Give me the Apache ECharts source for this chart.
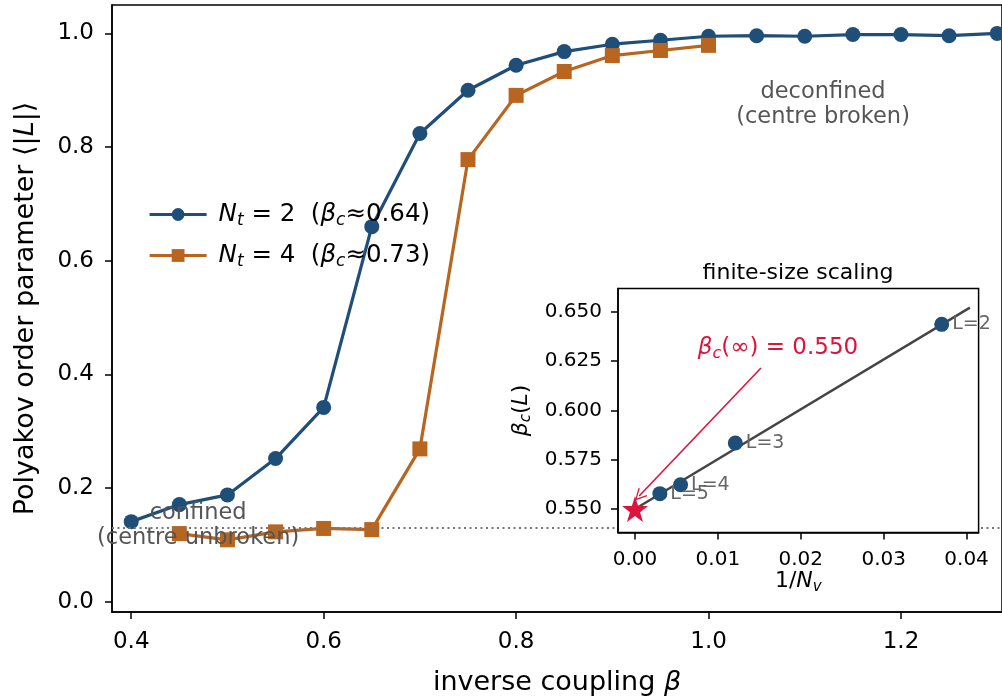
<!DOCTYPE html>
<html><head><meta charset="utf-8">
<script src="https://cdn.jsdelivr.net/npm/echarts@6.0.0/dist/echarts.min.js"></script>
<style>html,body{margin:0;padding:0;background:#fff}#c{width:1002px;height:697px}</style>
</head><body><div id="c"></div>
<script>
// ---------- data ----------
const betaNt2 = [0.40,0.45,0.50,0.55,0.60,0.65,0.70,0.75,0.80,0.85,0.90,0.95,1.00,1.05,1.10,1.15,1.20,1.25,1.30];
const polyNt2 = [0.141,0.171,0.188,0.252,0.342,0.660,0.824,0.900,0.944,0.968,0.981,0.988,0.995,0.996,0.995,0.998,0.998,0.996,1.000];
const betaNt4 = [0.45,0.50,0.55,0.60,0.65,0.70,0.75,0.80,0.85,0.90,0.95,1.00];
const polyNt4 = [0.120,0.109,0.123,0.129,0.127,0.269,0.778,0.891,0.933,0.961,0.970,0.979];
const confinedLevel = 0.132;
const mainXTicks = [0.4,0.6,0.8,1.0,1.2];
const mainYTicks = [0.0,0.2,0.4,0.6,0.8,1.0];

const fssLabels = ['L=2','L=3','L=4','L=5'];
const fssInvNv = [0.0370,0.0121,0.0055,0.0030];
const fssBetaC = [0.6437,0.5835,0.5623,0.5578];
const fitX = [0.0, 0.0404];
const fitY = [0.550, 0.6522];
const betaInf = 0.550;
const arrowFrom = [0.0152, 0.6216];
const arrowTo = [0.0005, 0.5566];
const insetXTicks = [0.00,0.01,0.02,0.03,0.04];
const insetYTicks = [0.550,0.575,0.600,0.625,0.650];

// ---------- style ----------
const FONT = 'DejaVu Sans';
const BLUE = '#1f4e79';
const ORANGE = '#b8651f';
const CRIMSON = '#dc143c';

const chart = echarts.init(document.getElementById('c'), null, {renderer:'canvas'});

const legendNames = {
  'Nt2': '{i|N}{s|t}{n| = 2  (}{i|β}{s|c}{n|≈0.64)}',
  'Nt4': '{i|N}{s|t}{n| = 4  (}{i|β}{s|c}{n|≈0.73)}'
};
function richSet(size, color){
  const sub = Math.round(size*0.7);
  return {
    n:{fontFamily:FONT,fontSize:size,color:color,lineHeight:Math.round(size*1.2)},
    i:{fontFamily:FONT,fontSize:size,fontStyle:'italic',color:color,lineHeight:Math.round(size*1.2)},
    s:{fontFamily:FONT,fontSize:sub,fontStyle:'italic',color:color,lineHeight:sub,verticalAlign:'bottom'}
  };
}
const STAR = 'path://M50,0 L61.8,35.1 L98.9,35.1 L68.9,56.9 L80.3,91.9 L50,70.2 L19.7,91.9 L31.1,56.9 L1.1,35.1 L38.2,35.1 Z';
const ARROW = 'path://M0,10 L5,0 L10,10 L9,10.6 L5,2.2 L1,10.6 Z';

const option = {
  animation:false,
  backgroundColor:'#fff',
  textStyle:{fontFamily:FONT},
  grid:[
    {left:112, top:5, width:890, height:607, show:true, borderColor:'#000', borderWidth:1.5, backgroundColor:'transparent', containLabel:false, outerBoundsMode:'none'},
    {left:618, top:288.5, width:360.6, height:244, show:true, borderColor:'#000', borderWidth:1.5, backgroundColor:'#fff', z:20, containLabel:false, outerBoundsMode:'none'}
  ],
  legend:{
    orient:'vertical', left:148, top:202, padding:0, itemWidth:57, itemHeight:16, itemGap:14,
    data:['Nt2','Nt4'],
    formatter:n=>legendNames[n],
    lineStyle:{width:3.2},
    textStyle:{rich:richSet(24.5,'#000'), padding:[0,0,0,7]}
  },
  xAxis:[
    {gridIndex:0, type:'value', min:0.38, max:1.305,
     axisLine:{onZero:false, lineStyle:{color:'#000',width:1.5}},
     axisTick:{length:7, lineStyle:{color:'#000',width:1.5}, customValues:mainXTicks},
     axisLabel:{fontSize:23, color:'#000', margin:19, customValues:mainXTicks, formatter:v=>v.toFixed(1)},
     splitLine:{show:false},
     name:'{n|inverse coupling }{i|β}', nameLocation:'middle', nameGap:55,
     nameTextStyle:{rich:richSet(27,'#000')}
    },
    {gridIndex:1, type:'value', min:-0.00205, max:0.04145, z:21,
     axisLine:{onZero:false, lineStyle:{color:'#000',width:1.5}},
     axisTick:{length:7, lineStyle:{color:'#000',width:1.5}, customValues:insetXTicks},
     axisLabel:{fontSize:20, color:'#000', margin:17, customValues:insetXTicks, formatter:v=>v.toFixed(2)},
     splitLine:{show:false},
     name:'{n|1/}{i|N}{s|v}', nameLocation:'middle', nameGap:33,
     nameTextStyle:{rich:richSet(22,'#000')}
    }
  ],
  yAxis:[
    {gridIndex:0, type:'value', min:-0.018, max:1.05,
     axisLine:{onZero:false, lineStyle:{color:'#000',width:1.5}},
     axisTick:{length:7, lineStyle:{color:'#000',width:1.5}, customValues:mainYTicks},
     axisLabel:{fontSize:23, color:'#000', margin:18, customValues:mainYTicks, formatter:v=>v.toFixed(1)},
     splitLine:{show:false},
     name:'{n|Polyakov order parameter ⟨|}{i|L}{n||⟩}', nameLocation:'middle', nameGap:70,
     nameTextStyle:{rich:richSet(27,'#000')}
    },
    {gridIndex:1, type:'value', min:0.5381, max:0.6619, z:21,
     axisLine:{onZero:false, lineStyle:{color:'#000',width:1.5}},
     axisTick:{length:7, lineStyle:{color:'#000',width:1.5}, customValues:insetYTicks},
     axisLabel:{fontSize:20, color:'#000', margin:16, customValues:insetYTicks, formatter:v=>v.toFixed(3)},
     splitLine:{show:false},
     name:'{i|β}{s|c}{n|(}{i|L}{n|)}', nameLocation:'middle', nameGap:84,
     nameTextStyle:{rich:richSet(22,'#000')}
    }
  ],
  series:[
    {name:'Nt2', type:'line', xAxisIndex:0, yAxisIndex:0,
     data:betaNt2.map((b,k)=>[b,polyNt2[k]]),
     symbol:'circle', symbolSize:15, showAllSymbol:true, clip:false,
     lineStyle:{color:BLUE,width:3.2}, itemStyle:{color:BLUE},
     markLine:{silent:true, symbol:['none','none'], label:{show:false},
       lineStyle:{color:'#777',type:[2,3.5],width:2}, data:[{yAxis:confinedLevel}]},
     z:3
    },
    {name:'Nt4', type:'line', xAxisIndex:0, yAxisIndex:0,
     data:betaNt4.map((b,k)=>[b,polyNt4[k]]),
     symbol:'rect', symbolSize:15, showAllSymbol:true,
     lineStyle:{color:ORANGE,width:3.2}, itemStyle:{color:ORANGE},
     markPoint:{silent:true, z:6, symbol:'circle', symbolSize:1, itemStyle:{color:'rgba(0,0,0,0)'},
       label:{show:true, position:'inside', color:'#555', fontSize:22.5, lineHeight:25, align:'center', fontFamily:FONT},
       data:[
         {coord:[0.4695,0.134], label:{formatter:'confined\n(centre unbroken)'}},
         {coord:[1.119,0.874], label:{formatter:'deconfined\n(centre broken)'}}
       ]},
     z:3
    },
    // inset: fit line + annotation
    {name:'fit', type:'line', xAxisIndex:1, yAxisIndex:1,
     data:fitX.map((x,k)=>[x,fitY[k]]), symbol:'none',
     lineStyle:{color:'#444',width:2.4}, z:22, silent:true,
     markPoint:{silent:true, z:25, symbol:'circle', symbolSize:1, itemStyle:{color:'rgba(0,0,0,0)'},
       label:{show:true, position:'inside', formatter:'{i|β}{s|c}{n|(∞) = 0.550}', rich:richSet(23,CRIMSON)},
       data:[{coord:[0.01725,0.6317]}]}
    },
    {name:'arrow', type:'lines', coordinateSystem:'cartesian2d', xAxisIndex:1, yAxisIndex:1,
     z:25, silent:true, symbol:['none',ARROW], symbolSize:12,
     lineStyle:{color:CRIMSON, width:1.6, opacity:1},
     data:[{coords:[arrowFrom, arrowTo]}]
    },
    {name:'fss', type:'scatter', xAxisIndex:1, yAxisIndex:1,
     data:fssInvNv.map((x,k)=>({value:[x,fssBetaC[k]], name:fssLabels[k]})),
     symbol:'circle', symbolSize:15, itemStyle:{color:BLUE, opacity:1}, z:23,
     label:{show:true, position:'right', distance:3, formatter:p=>p.name, color:'#666', fontSize:19, fontFamily:FONT}
    },
    {name:'inf', type:'scatter', xAxisIndex:1, yAxisIndex:1,
     data:[[0, betaInf]], symbol:STAR, symbolSize:26, itemStyle:{color:CRIMSON, opacity:1}, z:24
    }
  ],
  graphic:[
    {type:'text', z:30, style:{text:'finite-size scaling', x:798, y:273, textAlign:'center', textVerticalAlign:'middle', fontSize:22, fontFamily:FONT, fill:'#000'}}
  ]
};
chart.setOption(option);
</script>
</body></html>
